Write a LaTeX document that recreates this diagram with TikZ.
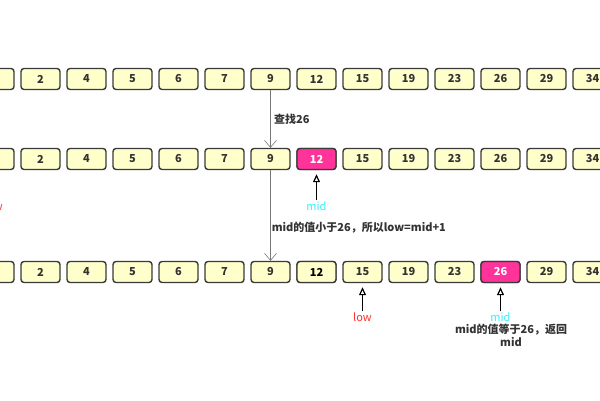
\documentclass[tikz,border=0pt]{standalone}
\usepackage{fontspec}
\setmainfont{Noto Sans CJK SC}
\usetikzlibrary{arrows.meta}
\definecolor{amarillo}{HTML}{FFFFCC}
\definecolor{borde}{HTML}{3A3A3A}
\definecolor{rosa}{HTML}{FF3399}
\definecolor{texto}{HTML}{333333}
\definecolor{cian}{HTML}{33EEFF}
\definecolor{rojo}{HTML}{FF3030}
\definecolor{gris}{HTML}{777777}
\tikzset{
  caja/.style={draw=borde, fill=amarillo, line width=1.4pt, rounded corners=3pt,
    minimum width=39pt, minimum height=21pt, inner sep=0pt, text=texto,
    font=\fontsize{11}{13}\selectfont\bfseries},
  marca/.style={caja, fill=rosa, text=white},
  etiqueta/.style={text=texto, font=\fontsize{11}{13}\selectfont\bfseries},
  puntero/.style={font=\fontsize{11}{13}\selectfont, inner sep=1pt},
  linea/.style={draw=gris, line width=0.6pt, -{Straight Barb[length=7pt,width=12pt]}},
  flecha/.style={draw=black, line width=1.2pt, -{Triangle[open,length=8pt,width=7pt]}, shorten >=4pt}
}
\begin{document}
\begin{tikzpicture}[x=1pt, y=-1pt]
  \useasboundingbox (0,0) rectangle (600,400);
  \clip (0,0) rectangle (600,400);

  % Filas
  \foreach \v [count=\i from 0] in {1,2,4,5,6,7,9,12,15,19,23,26,29,34} {
    \node[caja] (a\i) at (-5.5+46*\i, 79) {\v};
    \node[caja] (b\i) at (-5.5+46*\i, 159) {\v};
    \node[caja] (c\i) at (-5.5+46*\i, 272) {\v};
  }
  \node[marca] (b7) at (316.5, 159) {12};
  \node[caja, text=black] (c7) at (316.5, 272) {12};
  \node[marca] (c11) at (500.5, 272) {26};

  % Punteros
  \node[puntero, text=rojo] (low1) at (-6.5, 206) {low};
  \node[puntero, text=cian] (mid1) at (316.5, 206) {mid};
  \node[puntero, text=rojo] (low2) at (362.5, 317) {low};
  \node[puntero, text=cian] (mid2) at (500.5, 317) {mid};
  \node[etiqueta, align=center] (fin) at (511, 335) {mid的值等于26，返回\\mid};

  % Flechas
  \draw[linea] (a6) -- (b6) node[midway, right, etiqueta] {查找26};
  \draw[linea] (b6) -- (c6) node[pos=0.63, right, etiqueta, inner sep=1pt] {mid的值小于26，所以low=mid+1};
  \draw[flecha] (low1) -- (b0);
  \draw[flecha] (mid1) -- (b7);
  \draw[flecha] (low2) -- (c8);
  \draw[flecha] (mid2) -- (c11);
\end{tikzpicture}
\end{document}
